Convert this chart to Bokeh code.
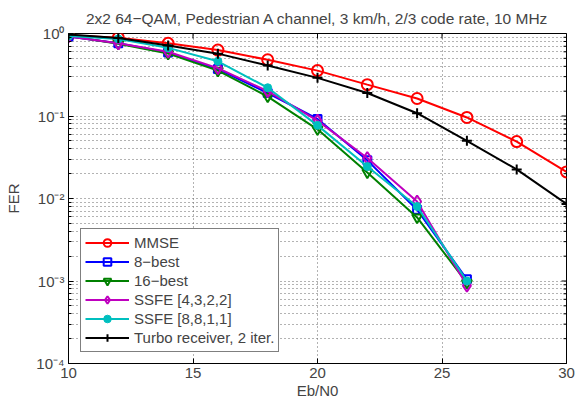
import math
from bokeh.plotting import figure
from bokeh.models import FixedTicker, Legend, LegendItem, Range1d
from bokeh.embed import file_html
from bokeh.resources import INLINE

# ---- data ----
ebn0 = [10, 12, 14, 16, 18, 20, 22, 24, 26, 28, 30]
ebn0_short = [10, 12, 14, 16, 18, 20, 22, 24, 26]

fer_mmse = [0.95, 0.89, 0.76, 0.63, 0.48, 0.355, 0.24, 0.163, 0.096, 0.049, 0.021]
fer_turbo = [0.97, 0.88, 0.715, 0.57, 0.41, 0.29, 0.19, 0.108, 0.050, 0.0225, 0.0086]
fer_8best = [0.92, 0.76, 0.59, 0.37, 0.19, 0.092, 0.029, 0.0073, 0.00105]
fer_16best = [0.93, 0.75, 0.57, 0.355, 0.172, 0.069, 0.0207, 0.0059, 0.00095]
fer_ssfe4322 = [0.92, 0.76, 0.60, 0.38, 0.20, 0.088, 0.031, 0.0092, 0.00088]
fer_ssfe8811 = [0.93, 0.86, 0.67, 0.46, 0.22, 0.077, 0.0244, 0.0080, 0.00100]

x_ticks = [10, 15, 20, 25, 30]
y_ticks = [1e-4, 1e-3, 1e-2, 1e-1, 1]
y_tick_labels = {1e-4: "10\u207b\u2074", 1e-3: "10\u207b\u00b3", 1e-2: "10\u207b\u00b2",
                 1e-1: "10\u207b\u00b9", 1: "10\u2070"}
y_minor = [m * 10.0 ** e for e in range(-4, 0) for m in range(2, 10)]

title_text = "2x2 64\u2212QAM, Pedestrian A channel, 3 km/h, 2/3 code rate, 10 MHz"

FONT = "Liberation Sans"

p = figure(width=583, height=403, y_axis_type="log", output_backend="svg",
           toolbar_location=None, x_range=Range1d(10, 30), y_range=Range1d(1e-4, 1),
           min_border_left=68, min_border_right=17, min_border_top=33, min_border_bottom=40,
           title=title_text)
p.title.align = "center"
p.title.text_font = FONT
p.title.text_font_size = "15.5px"
p.title.text_font_style = "normal"
p.title.standoff = 13
p.outline_line_color = "black"
p.outline_line_width = 1

# axes
xa = p.xaxis[0]
xa.ticker = FixedTicker(ticks=x_ticks)
ya = p.yaxis[0]
ya.ticker = FixedTicker(ticks=y_ticks, minor_ticks=y_minor)
ya.major_label_overrides = y_tick_labels
for ax in (xa, ya):
    ax.major_label_text_font = FONT
    ax.major_label_text_font_size = "15px"
    ax.axis_label_text_font = FONT
    ax.axis_label_text_font_size = "15px"
    ax.axis_label_text_font_style = "normal"
    ax.major_tick_in = 5
    ax.major_tick_out = 0
    ax.minor_tick_in = 3
    ax.minor_tick_out = 0
    ax.axis_line_color = "black"
    ax.major_tick_line_color = "black"
    ax.minor_tick_line_color = "black"
    ax.major_label_standoff = 4
xa.minor_tick_line_color = None
xa.axis_label = "Eb/N0"
xa.axis_label_standoff = 1
ya.axis_label = "FER"
ya.axis_label_standoff = 11

# grid
p.xgrid.ticker = FixedTicker(ticks=x_ticks)
p.ygrid.ticker = FixedTicker(ticks=y_ticks, minor_ticks=y_minor)
for g in (p.xgrid[0], p.ygrid[0]):
    g.grid_line_color = "#666666"
    g.grid_line_dash = "1 3"
    g.grid_line_width = 1
p.ygrid.minor_grid_line_color = "#666666"
p.ygrid.minor_grid_line_dash = "1 3"
p.ygrid.minor_grid_line_width = 1

# tick marks on top and right edges (box style), clipped to the frame
p.scatter(x_ticks, [y_ticks[-1]] * len(x_ticks), marker="dash", angle=math.pi / 2,
          size=10, line_color="black", line_width=1)
p.scatter([x_ticks[-1]] * len(y_ticks), y_ticks, marker="dash", size=10,
          line_color="black", line_width=1)
p.scatter([x_ticks[-1]] * len(y_minor), y_minor, marker="dash", size=6,
          line_color="black", line_width=1)

LW = 2
items = []

r1 = p.line(ebn0, fer_mmse, line_color="#FF0000", line_width=LW)
m1 = p.scatter(ebn0, fer_mmse, marker="circle", size=11, fill_color=None,
               line_color="#FF0000", line_width=LW)
items.append(LegendItem(label="MMSE", renderers=[r1, m1]))

r2 = p.line(ebn0_short, fer_8best, line_color="#0000FF", line_width=LW)
m2 = p.scatter(ebn0_short, fer_8best, marker="square", size=8, fill_color=None,
               line_color="#0000FF", line_width=LW)
items.append(LegendItem(label="8\u2212best", renderers=[r2, m2]))

r3 = p.line(ebn0_short, fer_16best, line_color="#008000", line_width=LW)
m3 = p.scatter(ebn0_short, fer_16best, marker="inverted_triangle", size=10, fill_color=None,
               line_color="#008000", line_width=LW)
items.append(LegendItem(label="16\u2212best", renderers=[r3, m3]))

r4 = p.line(ebn0_short, fer_ssfe4322, line_color="#BF00BF", line_width=LW)
m4 = p.scatter(ebn0_short, fer_ssfe4322, marker="diamond", size=12, fill_color=None,
               line_color="#BF00BF", line_width=LW)
items.append(LegendItem(label="SSFE [4,3,2,2]", renderers=[r4, m4]))

r5 = p.line(ebn0_short, fer_ssfe8811, line_color="#00BFBF", line_width=LW)
m5 = p.scatter(ebn0_short, fer_ssfe8811, marker="circle", size=8, fill_color="#00BFBF",
               line_color="#00BFBF", line_width=1)
items.append(LegendItem(label="SSFE [8,8,1,1]", renderers=[r5, m5]))

r6 = p.line(ebn0, fer_turbo, line_color="#000000", line_width=LW)
m6 = p.scatter(ebn0, fer_turbo, marker="cross", size=10,
               line_color="#000000", line_width=LW)
items.append(LegendItem(label="Turbo receiver, 2 iter.", renderers=[r6, m6]))

legend = Legend(items=items, location=(12, 11), label_text_font=FONT,
                label_text_font_size="15px", border_line_color="black",
                border_line_width=1, background_fill_color="white", background_fill_alpha=1,
                glyph_width=44, glyph_height=19, label_height=19, spacing=0,
                padding=4, margin=0, label_standoff=5)
p.add_layout(legend)

open("out.html", "w").write(file_html(p, INLINE))
